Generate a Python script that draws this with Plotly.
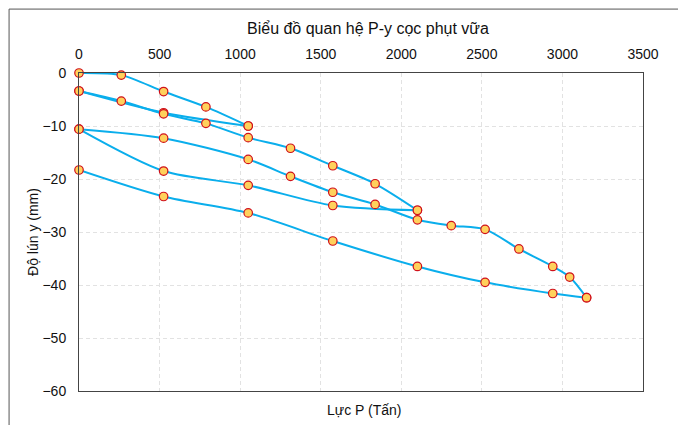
import plotly.graph_objects as go

# Load P (Tấn) and settlement y (mm) for each loading / unloading branch
p_load1 = [0, 262.5, 525, 787.5, 1050]
y_load1 = [0, -0.4, -3.5, -6.4, -10.0]

p_unload1 = [1050, 525, 0]
y_unload1 = [-10.0, -7.5, -3.4]

p_load2 = [0, 262.5, 525, 787.5, 1050, 1312.5, 1575, 1837.5, 2100]
y_load2 = [-3.4, -5.3, -7.7, -9.5, -12.2, -14.2, -17.5, -20.9, -25.9]

p_unload2 = [2100, 1575, 1050, 525, 0]
y_unload2 = [-25.9, -25.0, -21.2, -18.5, -10.6]

p_load3 = [0, 525, 1050, 1312.5, 1575, 1837.5, 2100, 2310, 2520, 2730, 2940, 3045, 3150]
y_load3 = [-10.6, -12.3, -16.3, -19.5, -22.5, -24.8, -27.7, -28.8, -29.5, -33.2, -36.5, -38.5, -42.4]

p_unload3 = [3150, 2940, 2520, 2100, 1575, 1050, 525, 0]
y_unload3 = [-42.4, -41.6, -39.5, -36.5, -31.7, -26.4, -23.3, -18.3]

x_ticks = [0, 500, 1000, 1500, 2000, 2500, 3000, 3500]
y_ticks = [0, -10, -20, -30, -40, -50, -60]

branches = [
    (p_load1, y_load1), (p_unload1, y_unload1),
    (p_load2, y_load2), (p_unload2, y_unload2),
    (p_load3, y_load3), (p_unload3, y_unload3),
]

FONT = "Liberation Sans, Arial, sans-serif"

fig = go.Figure()
for px_, py_ in branches:
    fig.add_trace(go.Scatter(
        x=px_, y=py_, mode="lines+markers",
        line=dict(color="#0AAEEC", width=2, shape="spline", smoothing=0.8),
        marker=dict(size=8.5, color="#FFD15C", line=dict(color="#D0101A", width=1.2)),
        showlegend=False, cliponaxis=False,
    ))

fig.update_xaxes(
    side="top", range=[0, 3500], tickvals=x_ticks,
    ticks="outside", ticklen=7, tickcolor="rgba(0,0,0,0)",
    showgrid=True, gridcolor="#E2E2E2", griddash="4px,3px", gridwidth=1,
    showline=True, linecolor="#444444", linewidth=1, mirror=True,
    zeroline=True, zerolinecolor="#111111", zerolinewidth=1.5,
    tickfont=dict(family=FONT, size=14, color="#111111"),
)
fig.update_yaxes(
    range=[-60, 0], tickvals=y_ticks,
    ticks="outside", ticklen=9, tickcolor="rgba(0,0,0,0)",
    showgrid=True, gridcolor="#E2E2E2", griddash="4px,3px", gridwidth=1,
    showline=True, linecolor="#444444", linewidth=1, mirror=True,
    zeroline=True, zerolinecolor="#111111", zerolinewidth=2,
    tickfont=dict(family=FONT, size=14, color="#111111"),
)

fig.update_layout(
    width=686, height=425,
    margin=dict(l=71, r=51, t=65, b=42),
    paper_bgcolor="white", plot_bgcolor="white",
    font=dict(family=FONT, color="#111111"),
    annotations=[
        dict(text="Biểu đồ quan hệ P-y cọc phụt vữa", xref="paper", yref="paper",
             x=0.512, y=1.1415, showarrow=False, font=dict(size=16, family=FONT),
             xanchor="center", yanchor="middle"),
        dict(text="Lực P (Tấn)", xref="paper", yref="paper",
             x=0.505, y=-0.06, showarrow=False, font=dict(size=14, family=FONT),
             xanchor="center", yanchor="middle"),
        dict(text="Độ lún y (mm)", xref="paper", yref="paper",
             x=-0.0816, y=0.5, showarrow=False, textangle=-90,
             font=dict(size=14, family=FONT), xanchor="center", yanchor="middle"),
    ],
    shapes=[
        dict(type="rect", xref="paper", yref="paper",
             x0=-0.124, x1=1.0656, y0=-0.25, y1=1.201,
             line=dict(color="#555555", width=1), layer="below"),
    ],
)

fig.write_html("out.html")
